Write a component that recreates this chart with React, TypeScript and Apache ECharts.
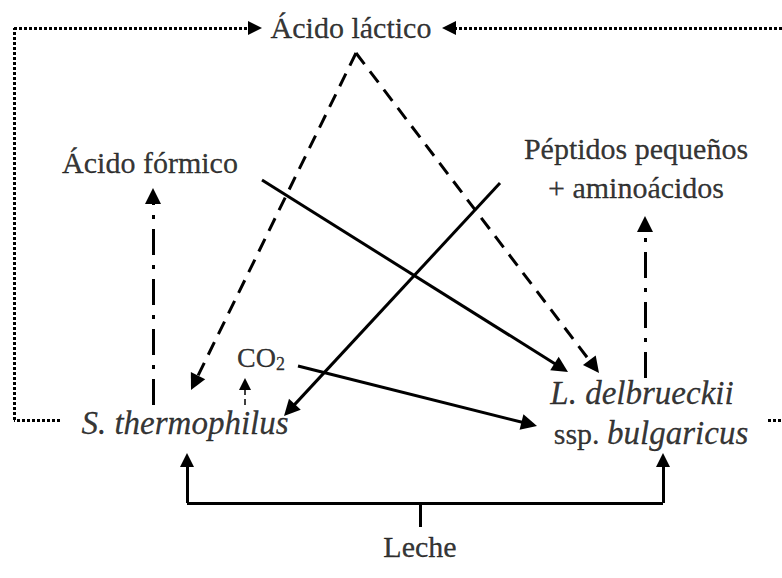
import React, { useEffect, useRef } from "react";
import * as echarts from "echarts";

const W = 782;
const H = 578;

// node labels
const labelNames = ["acidoLactico", "acidoFormico", "peptidos", "aminoacidos", "co2", "sThermo", "lDelb", "ssp", "leche"];
const labelTexts = [
  "{n|Ácido láctico}",
  "{n|Ácido fórmico}",
  "{n|Péptidos pequeños}",
  "{n|+ aminoácidos}",
  "{c|CO}{s|2}",
  "{i|S. thermophilus}",
  "{i|L. delbrueckii}",
  "{n|ssp. }{i|bulgaricus}",
  "{n|Leche}",
];
const labelX = [351, 150, 636, 636, 261, 185, 642, 651, 420];
const labelY = [27, 162, 148, 187, 357, 423, 393, 433, 546];

// connections (arrow edges end at the arrow tip)
const dottedArrowEdges = [
  [[14, 28], [262, 28]],
  [[782, 28], [442, 28]],
];
const dottedPlainEdges = [
  [[60, 420], [14, 420]],
  [[14, 420], [14, 28]],
  [[768, 420], [782, 420]],
];
const dashedEdges = [
  [[356, 53], [191, 390]],
  [[356, 53], [599, 373]],
];
const solidEdges = [
  [[262, 180], [568, 372]],
  [[500, 183], [284, 416]],
  [[298, 366], [537, 426]],
];
const dashDotEdges = [
  [[153, 405], [153, 188]],
  [[645, 378], [645, 216]],
];
const thinDashedEdges = [[[245, 405], [245, 378]]];
const lecheArrows = [
  [[187, 503], [187, 453]],
  [[663, 503], [663, 453]],
];
const lecheBars = [
  [[187, 503], [663, 503]],
  [[420, 527], [420, 503]],
];

// move end point back so the triangle's tip (not its centre) lands on it
function pullBack(c: number[][], d: number) {
  const [a, b] = c;
  const dx = b[0] - a[0];
  const dy = b[1] - a[1];
  const len = Math.hypot(dx, dy);
  return [a, [b[0] - (dx / len) * d, b[1] - (dy / len) * d]];
}

export default function App() {
  const ref = useRef<HTMLDivElement>(null);
  useEffect(() => {
    document.body.style.margin = "0";
    const chart = echarts.init(ref.current!, null, { renderer: "svg" });
    const font = "Liberation Serif";
    const lineSeries = (data: any[], lineStyle: any, arrow: boolean, size: number[] = [12, 16]) => ({
      type: "lines",
      coordinateSystem: "cartesian2d",
      symbol: arrow ? ["none", "triangle"] : ["none", "none"],
      symbolSize: size,
      lineStyle: { color: "#000", opacity: 1, curveness: 0, ...lineStyle },
      itemStyle: { color: "#000" },
      data: data.map((c: any) => ({ coords: arrow ? pullBack(c, size[1] / 2) : c })),
      silent: true,
    });
    const txt = { color: "#000", fontFamily: font, textBorderColor: "#000", textBorderWidth: 0.3 };
    chart.setOption({
      animation: false,
      backgroundColor: "#fff",
      grid: { left: 0, right: 0, top: 0, bottom: 0 },
      xAxis: { type: "value", min: 0, max: W, show: false },
      yAxis: { type: "value", min: 0, max: H, inverse: true, show: false },
      series: [
        lineSeries(dottedArrowEdges, { width: 3, type: [3, 2] }, true, [11, 14]),
        lineSeries(dottedPlainEdges, { width: 3, type: [3, 2] }, false),
        lineSeries(dashedEdges, { width: 3, type: [14, 9] }, true),
        lineSeries(solidEdges, { width: 3, type: "solid" }, true),
        lineSeries(dashDotEdges, { width: 3, type: [26, 10, 4, 10] }, true),
        lineSeries(thinDashedEdges, { width: 1.5, type: [6, 4] }, true, [9, 12]),
        lineSeries(lecheArrows, { width: 3, type: "solid" }, true, [11, 14]),
        lineSeries(lecheBars, { width: 3, type: "solid" }, false),
        {
          type: "scatter",
          symbolSize: 1,
          itemStyle: { color: "rgba(0,0,0,0)" },
          silent: true,
          data: labelNames.map((n, i) => ({
            name: n,
            value: [labelX[i], labelY[i]],
            label: {
              show: true,
              position: "inside",
              formatter: labelTexts[i],
              ...txt,
              fontSize: 30,
              rich: {
                n: { ...txt, fontSize: 30 },
                c: { ...txt, fontSize: 28 },
                s: { ...txt, fontSize: 18, padding: [14, 0, 0, 0] },
                i: { ...txt, fontSize: 33, fontStyle: "italic" },
              },
            },
          })),
        },
      ],
    });
    return () => chart.dispose();
  }, []);
  return <div ref={ref} style={{ width: W, height: H }} />;
}
